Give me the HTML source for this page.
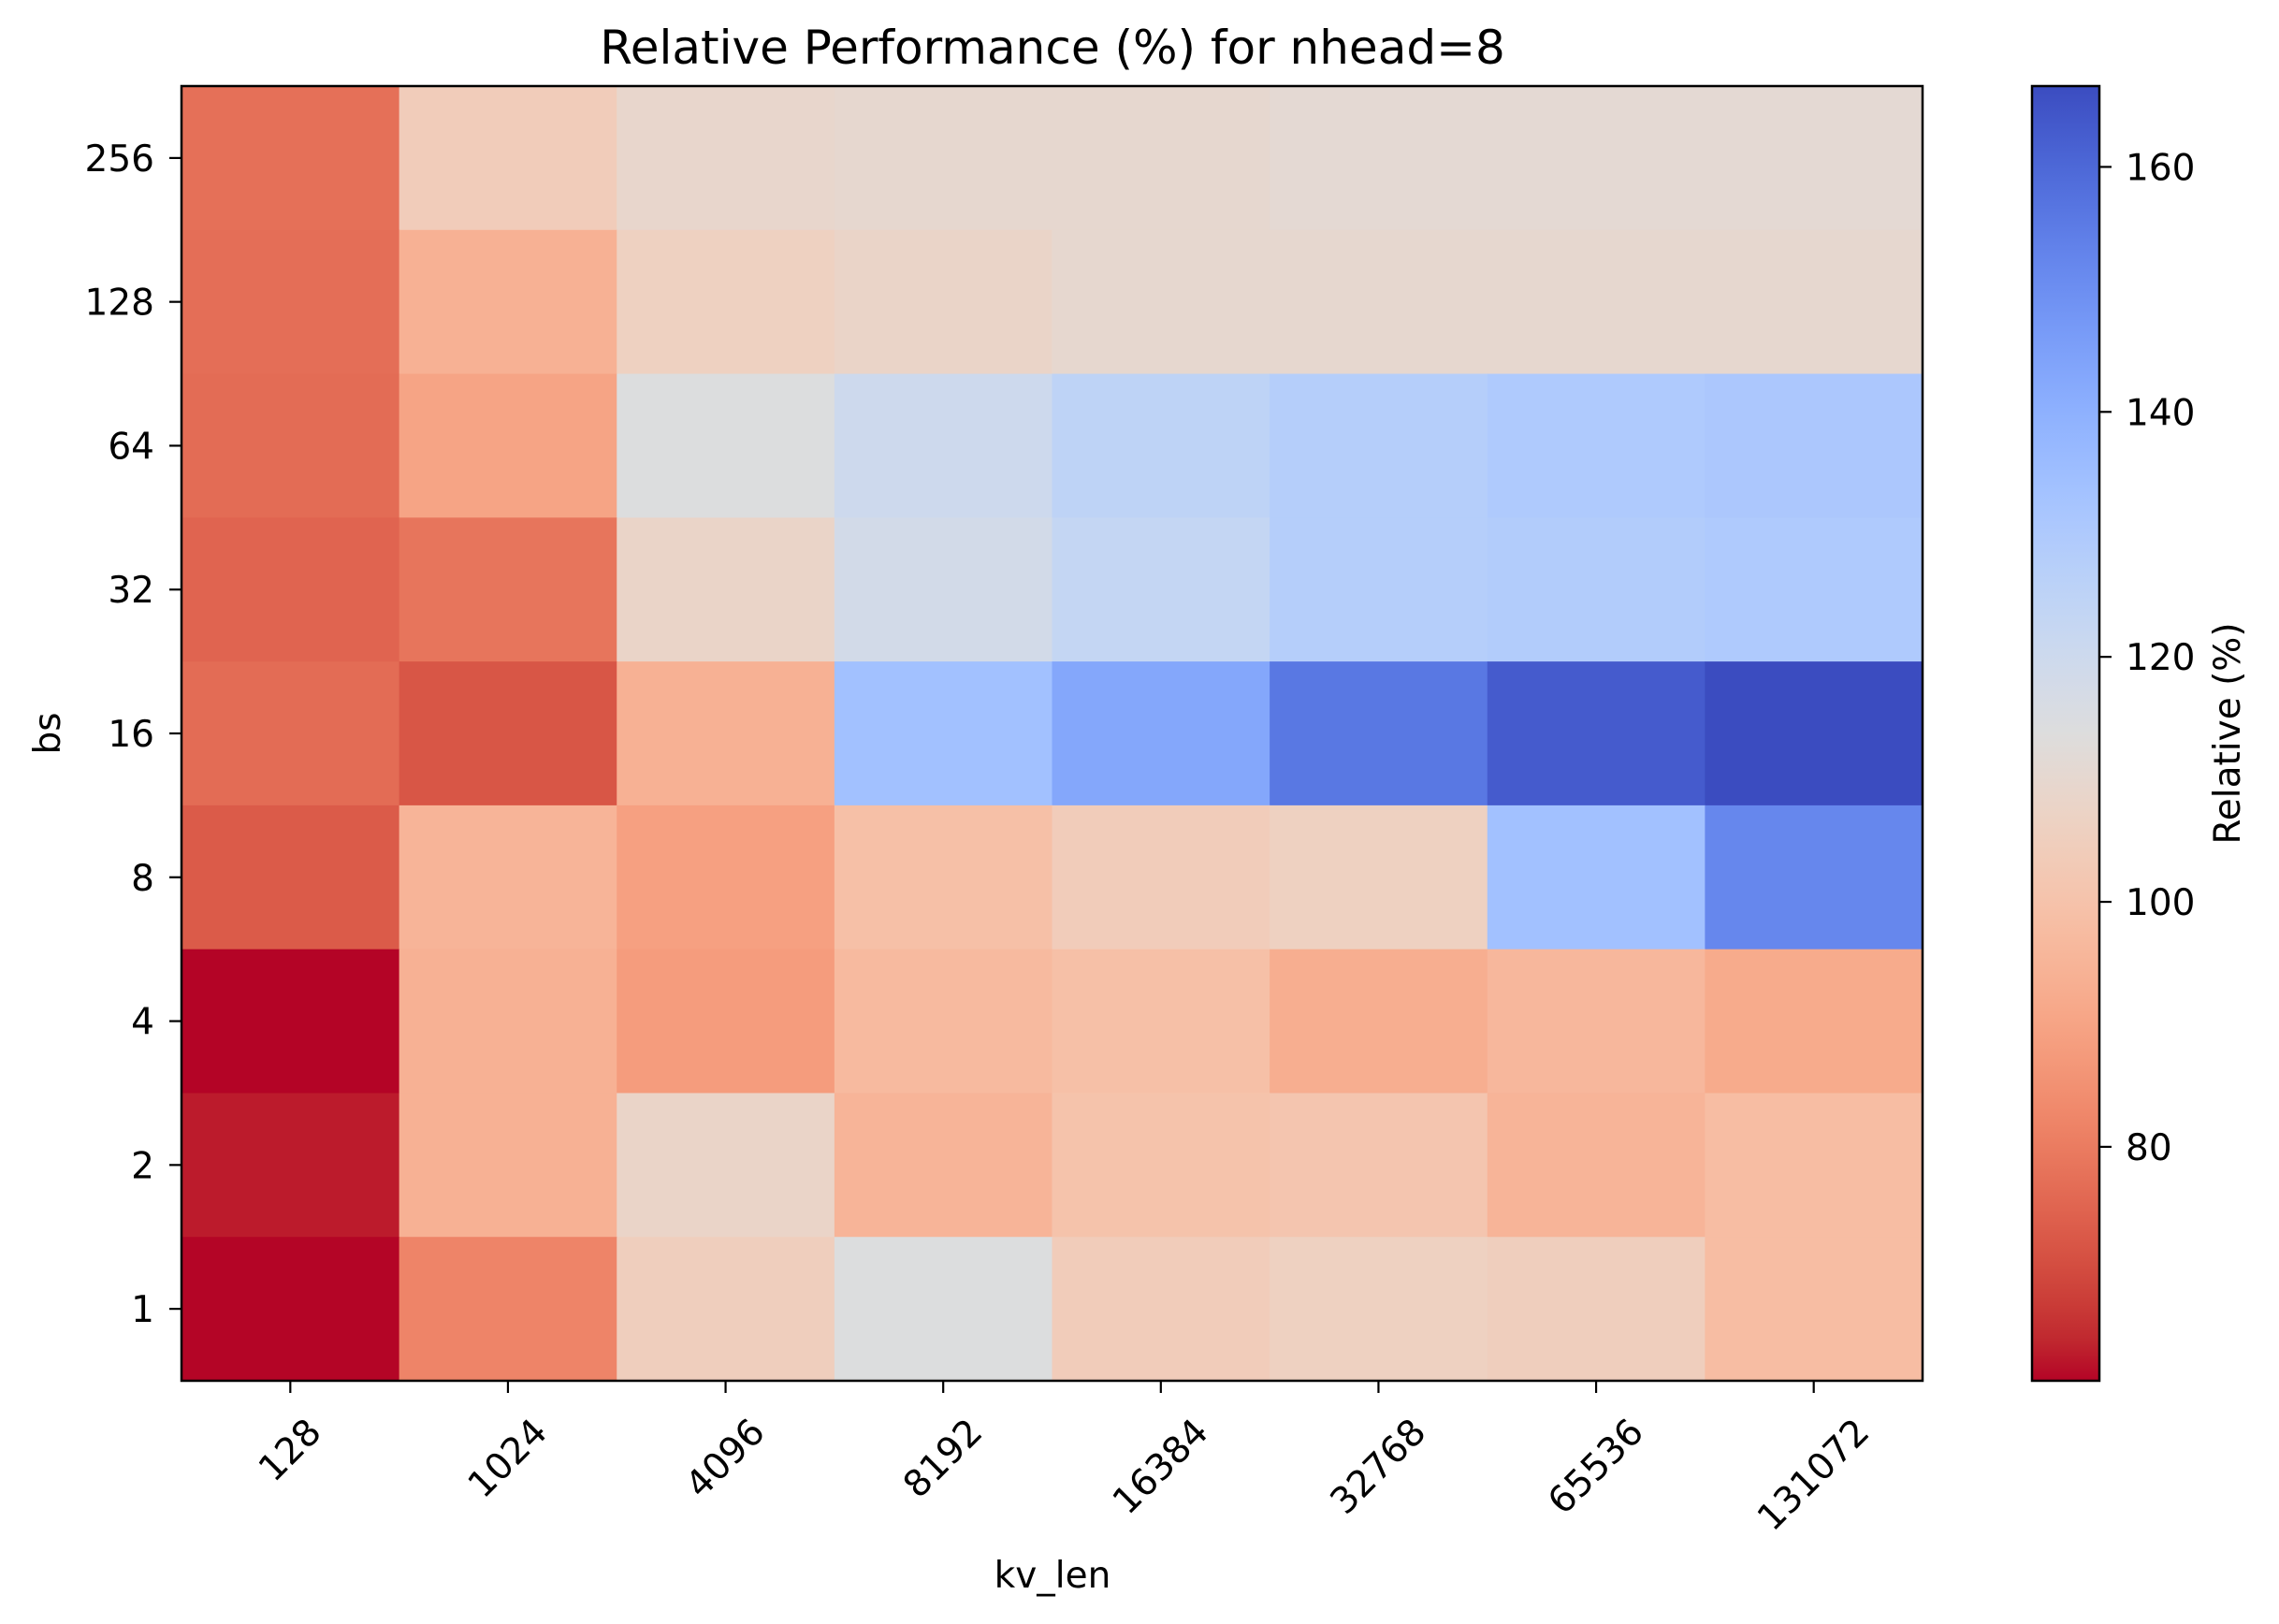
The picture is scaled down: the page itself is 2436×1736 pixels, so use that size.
<!DOCTYPE html>
<html><head><meta charset="utf-8">
<style>
html,body{margin:0;padding:0;background:#fff;}
svg{display:block;font-family:"DejaVu Sans","Liberation Sans",sans-serif;}
</style></head>
<body>
<svg id="chart" width="2436" height="1736" viewBox="0 0 2436 1736" xmlns="http://www.w3.org/2000/svg">
<defs>
<linearGradient id="cbgrad" x1="0" y1="1" x2="0" y2="0"></linearGradient>
</defs>
<text x="1125" y="68" font-size="50" text-anchor="middle" fill="#000">Relative Performance (%) for nhead=8</text>
<g id="cells"></g>
<g id="axes"></g>
<g id="cbar"></g>
<text x="1125" y="1697" font-size="39" text-anchor="middle" fill="#000">kv_len</text>
<text transform="translate(64,784) rotate(-90)" font-size="39" text-anchor="middle" fill="#000">bs</text>
<text transform="translate(2394,784) rotate(-90)" font-size="39" text-anchor="middle" fill="#000">Relative (%)</text>
</svg>
<script>
const xCategories = ["128","1024","4096","8192","16384","32768","65536","131072"];
const yCategories = ["256","128","64","32","16","8","4","2","1"];
const row256 = [77.5, 104, 109, 110, 110, 111, 111, 111];
const row128 = [77, 94, 106, 108, 110, 110, 110, 110];
const row64 = [76.5, 90, 114, 120, 125, 128, 130, 131];
const row32 = [75, 78.5, 108, 118, 123, 128, 129, 130];
const row16 = [76.5, 72, 94, 134, 143, 156, 163, 166.6];
const row8 = [73, 95, 89, 99, 104, 106, 134, 152];
const row4 = [60.9, 94, 88, 97, 99, 93, 96, 92];
const row2 = [63, 94, 108, 95, 100, 101, 95, 98];
const row1 = [61, 82, 105, 114, 104, 106, 105, 98];
const cbTicks = [80, 100, 120, 140, 160];

const values = [row256,row128,row64,row32,row16,row8,row4,row2,row1];
const NS = "http://www.w3.org/2000/svg";
const L = 194, R = 2055, T = 92, B = 1476;
const cw = (R - L) / xCategories.length, ch = (B - T) / yCategories.length;
let vmin = Infinity, vmax = -Infinity;
values.forEach(r => r.forEach(v => { vmin = Math.min(vmin, v); vmax = Math.max(vmax, v); }));

const cw_tab = [[59,76,192],[68,90,204],[77,104,215],[87,117,225],[98,130,234],[108,142,241],[119,154,247],[130,165,251],[141,176,254],[152,185,255],[163,194,255],[174,201,253],[184,208,249],[194,213,244],[204,217,238],[213,219,230],[221,221,221],[229,216,209],[236,211,197],[241,204,185],[245,196,173],[247,187,160],[247,177,148],[247,166,135],[244,154,123],[241,141,111],[236,127,99],[229,112,88],[222,96,77],[213,80,66],[203,62,56],[192,40,47],[180,4,38]];
function cmap(t) {
  t = Math.max(0, Math.min(1, t)) * (cw_tab.length - 1);
  const i = Math.min(Math.floor(t), cw_tab.length - 2), f = t - i;
  const a = cw_tab[i], b = cw_tab[i + 1];
  return "rgb(" + a.map((c, k) => Math.round(c + (b[k] - c) * f)).join(",") + ")";
}
function colorOf(v) { return cmap(1 - (v - vmin) / (vmax - vmin)); }
function xPos(i) { return L + (i + 0.5) * cw; }
function yPos(j) { return T + (j + 0.5) * ch; }
function mk(tag, attrs, parent) {
  const e = document.createElementNS(NS, tag);
  for (const k in attrs) e.setAttribute(k, attrs[k]);
  parent.appendChild(e); return e;
}
const cells = document.getElementById("cells");
values.forEach((row, j) => row.forEach((v, i) => {
  const r = mk("rect", {x: L + i * cw, y: T + j * ch, width: cw + 0.6, height: ch + 0.6, fill: colorOf(v)}, cells);
  
  
}));
const axes = document.getElementById("axes");
const frame = mk("rect", {x: L, y: T, width: R - L, height: B - T, fill: "none", stroke: "#000", "stroke-width": 2.5}, axes);


yCategories.forEach((c, j) => {
  const y = yPos(j);
  mk("line", {x1: L - 13, x2: L, y1: y, y2: y, stroke: "#000", "stroke-width": 2.2}, axes);
  const t = mk("text", {x: L - 29, y: y + 14, "font-size": 39, "text-anchor": "end", fill: "#000"}, axes);
  t.textContent = c;
  
  
});
xCategories.forEach((c, i) => {
  const x = xPos(i);
  mk("line", {x1: x, x2: x, y1: B, y2: B + 13, stroke: "#000", "stroke-width": 2.2}, axes);
  const w = c.length * 0.636 * 39, fh = 29;
  const cy = B + 38 + (w + fh) * 0.3536;
  const t = mk("text", {transform: "translate(" + x + "," + cy + ") rotate(-45)", "font-size": 39, "text-anchor": "middle", "dominant-baseline": "central", fill: "#000"}, axes);
  t.textContent = c;
  
  
});
const CL = 2172, CR = 2244;
const grad = document.getElementById("cbgrad");
for (let k = 0; k <= 32; k++) {
  mk("stop", {offset: (k / 32), "stop-color": cmap(1 - k / 32)}, grad);
}
const cb = document.getElementById("cbar");
const cbr = mk("rect", {x: CL, y: T, width: CR - CL, height: B - T, fill: "url(#cbgrad)", stroke: "#000", "stroke-width": 2.5}, cb);


function cbY(v) { return B - (v - vmin) / (vmax - vmin) * (B - T); }
cbTicks.forEach(v => {
  const y = cbY(v);
  mk("line", {x1: CR, x2: CR + 13, y1: y, y2: y, stroke: "#000", "stroke-width": 2.2}, cb);
  const t = mk("text", {x: CR + 28, y: y + 14, "font-size": 39, fill: "#000"}, cb);
  t.textContent = v;
  
  
});
</script>
</body></html>
